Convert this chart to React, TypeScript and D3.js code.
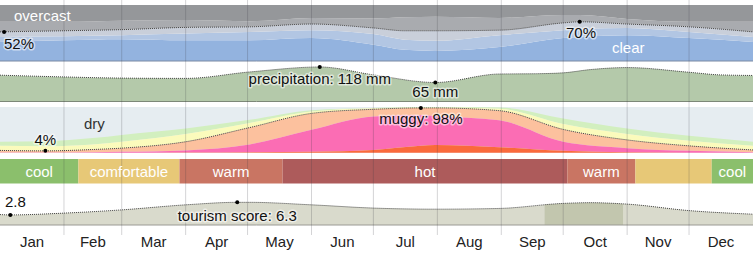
import React from "react";
import * as d3 from "d3";

// 월 라벨
const months = ["Jan", "Feb", "Mar", "Apr", "May", "Jun", "Jul", "Aug", "Sep", "Oct", "Nov", "Dec"];

// 구름량 (누적 %, 아래부터): clear, +mostly clear, +partly cloudy, +mostly cloudy
const cloudDays = [0, 31, 59, 90, 121, 151, 181, 196, 211, 242, 273, 281, 304, 334, 365];
const clearPct = [34, 37, 39, 37, 37, 41, 29, 20, 18, 25, 41, 43, 46, 41, 34];
const mostlyClearPct = [43, 44, 46, 49, 52, 55, 48, 38, 36, 46, 55, 57, 59, 52, 43];
const partlyCloudyPct = [52, 54, 56, 60, 61, 66, 59, 54, 54, 55, 68, 70, 66, 61, 52];
const mostlyCloudyPct = [70, 70, 72, 73, 71, 77, 76, 78, 79, 77, 82, 82, 75, 70, 70];

// 강수량 (31일 누적 mm)
const precipDays = [0, 31, 59, 90, 121, 155, 181, 211, 242, 260, 273, 286, 304, 334, 349, 365];
const precipMm = [90, 84, 80, 79, 101, 118, 91, 65, 94, 95, 98, 109, 116, 100, 91, 89];

// 습도 (누적 %, 아래부터): miserable, +oppressive, +muggy, +humid, +comfortable
const humDays = [0, 22, 45, 59, 90, 121, 151, 181, 204, 211, 242, 273, 304, 334, 365];
const miserablePct = [0, 0, 0, 0, 0.5, 1, 2, 6, 15, 17, 12, 4, 1, 0, 0];
const oppressivePct = [0.5, 0.5, 1, 2, 5, 18, 50, 79, 82, 80, 71, 24, 10, 4, 1];
const muggyPct = [5, 4, 7, 10, 24, 55, 86, 95, 98, 98, 92, 51, 28, 15, 6];
const humidPct = [15, 14, 18, 24, 41, 65, 90, 97, 99, 99, 96, 63, 41, 26, 15];
const comfortablePct = [24, 25, 32, 39, 53, 72, 93, 98, 100, 100, 99, 75, 53, 37, 24];

// 기온 구간
const tempStarts = [0, 38, 87, 137, 275, 308, 345];
const tempEnds = [38, 87, 137, 275, 308, 345, 365];
const tempCats = ["cool", "comfortable", "warm", "hot", "warm", "comfortable", "cool"];

// 관광 점수
const tourDays = [0, 5, 31, 59, 90, 115, 121, 151, 181, 211, 242, 273, 286, 304, 334, 365];
const tourScore = [2.9, 2.8, 3.3, 4.2, 5.6, 6.3, 6.3, 5.6, 4.7, 4.4, 4.6, 6.0, 6.2, 5.8, 4.0, 3.0];
const bestStart = 264;
const bestEnd = 302;

const W = 753;
const H = 253;
const FONT = "'Liberation Sans', Arial, Helvetica, sans-serif";

const tempColor: Record<string, string> = {
  cool: "#8bbf6c",
  comfortable: "#e7c877",
  warm: "#c97563",
  hot: "#ad5b5b",
};

const haloText = {
  paintOrder: "stroke",
  stroke: "rgba(255,255,255,0.55)",
  strokeWidth: 3,
  strokeLinejoin: "round" as const,
};

export default function App() {
  const year0 = new Date(2023, 0, 1);
  const x = d3.scaleTime().domain([year0, new Date(2024, 0, 1)]).range([0, W]);
  const xd = (d: number) => x(d3.timeDay.offset(year0, d));

  const yCloud = d3.scaleLinear().domain([0, 100]).range([61, 5]);
  const yPrecip = d3.scaleLinear().domain([0, 120]).range([101.5, 66.4]);
  const yHum = d3.scaleLinear().domain([0, 100]).range([152.7, 107]);
  const yTour = d3.scaleLinear().domain([0, 10]).range([225, 189]);

  const band = (days: number[], lo: number[] | null, hi: number[] | null, y: d3.ScaleLinear<number, number>, top: number) =>
    d3
      .area<number>()
      .x((i) => xd(days[i]))
      .y0((i) => y(lo ? lo[i] : 0))
      .y1((i) => y(hi ? hi[i] : top))
      .curve(d3.curveMonotoneX)(days.map((_, i) => i)) || "";

  const line = (days: number[], vals: number[], y: d3.ScaleLinear<number, number>) =>
    d3
      .line<number>()
      .x((i) => xd(days[i]))
      .y((i) => y(vals[i]))
      .curve(d3.curveMonotoneX)(days.map((_, i) => i)) || "";

  const cloudLayers: [number[] | null, number[] | null, string][] = [
    [null, clearPct, "#93b3df"],
    [clearPct, mostlyClearPct, "#b2c6e3"],
    [mostlyClearPct, partlyCloudyPct, "#c9cfda"],
    [partlyCloudyPct, mostlyCloudyPct, "#a9abaf"],
    [mostlyCloudyPct, null, "#95979a"],
  ];

  const humLayers: [number[] | null, number[], string][] = [
    [null, miserablePct, "#fa6a3c"],
    [miserablePct, oppressivePct, "#fb6db4"],
    [oppressivePct, muggyPct, "#fcc19e"],
    [muggyPct, humidPct, "#fbfbbc"],
    [humidPct, comfortablePct, "#d2efbf"],
  ];

  const monthStarts = d3.timeMonth.range(year0, new Date(2024, 0, 1));
  const dotted = { fill: "none", stroke: "#444", strokeWidth: 1, strokeDasharray: "1 1" };

  return (
    <div style={{ position: "fixed", left: 0, top: 0 }}>
      <svg width={W} height={H} style={{ display: "block", fontFamily: FONT, fontSize: 15 }}>
        <defs>
          <clipPath id="best">
            <rect x={xd(bestStart)} y={180} width={xd(bestEnd) - xd(bestStart)} height={50} />
          </clipPath>
        </defs>
        <rect width={W} height={H} fill="#fff" />

        {/* 구름 */}
        {cloudLayers.map(([lo, hi, c], i) => (
          <path key={"c" + i} d={band(cloudDays, lo, hi, yCloud, 100)} fill={c} />
        ))}
        <path d={line(cloudDays, partlyCloudyPct, yCloud)} {...dotted} />
        <line x1={0} x2={W} y1={61} y2={61} stroke="#7b8aa3" strokeWidth={1} />

        {/* 강수량 */}
        <path d={band(precipDays, null, precipMm, yPrecip, 0)} fill="#b4c9aa" />
        <path d={line(precipDays, precipMm, yPrecip)} {...dotted} />
        <line x1={0} x2={W} y1={101.5} y2={101.5} stroke="#7d8878" strokeWidth={1} />

        {/* 습도 */}
        <rect x={0} y={yHum(100)} width={W} height={yHum(0) - yHum(100)} fill="#e6edf1" />
        {humLayers
          .slice()
          .reverse()
          .map(([lo, hi, c], i) => (
            <path key={"h" + i} d={band(humDays, lo, hi, yHum, 100)} fill={c} />
          ))}
        <path d={line(humDays, muggyPct, yHum)} {...dotted} />

        {/* 기온 */}
        {tempCats.map((c, i) => (
          <rect key={"t" + i} x={xd(tempStarts[i])} y={159} width={xd(tempEnds[i]) - xd(tempStarts[i])} height={24.5} fill={tempColor[c]} />
        ))}

        {/* 관광 */}
        <path d={band(tourDays, null, tourScore, yTour, 0)} fill="#d9dacc" />
        <path d={band(tourDays, null, tourScore, yTour, 0)} fill="#c2c6ae" clipPath="url(#best)" />
        <path d={line(tourDays, tourScore, yTour)} {...dotted} />
        <line x1={0} x2={W} y1={225} y2={225} stroke="#9a9a94" strokeWidth={1} />

        {/* 월 구분선 */}
        {monthStarts.slice(1).map((m, i) => (
          <line key={"g" + i} x1={x(m)} x2={x(m)} y1={0} y2={235} stroke="rgba(60,60,70,0.22)" strokeWidth={1} />
        ))}

        {/* 기온 라벨 */}
        {tempCats.map((c, i) => {
          const w = xd(tempEnds[i]) - xd(tempStarts[i]);
          const show = w > c.length * 8 + 6;
          return show ? (
            <text key={"tl" + i} x={xd(tempStarts[i]) + w / 2} y={177} textAnchor="middle" fill="#fff">
              {c}
            </text>
          ) : null;
        })}

        {/* 라벨 */}
        <text x={14} y={21} fill="#fff">overcast</text>
        <text x={612} y={53} fill="#fff">clear</text>
        <circle cx={xd(2)} cy={yCloud(52)} r={2} fill="#000" />
        <text x={4} y={49} fill="#111" style={haloText}>52%</text>
        <circle cx={xd(281)} cy={yCloud(70)} r={2} fill="#000" />
        <text x={566} y={38} fill="#111" style={haloText}>70%</text>

        <circle cx={xd(155)} cy={yPrecip(118)} r={2} fill="#000" />
        <text x={xd(155)} y={84} textAnchor="middle" fill="#111" style={haloText}>precipitation: 118 mm</text>
        <circle cx={xd(211)} cy={yPrecip(65)} r={2} fill="#000" />
        <text x={xd(211)} y={97} textAnchor="middle" fill="#111" style={haloText}>65 mm</text>

        <text x={84} y={129} fill="#333">dry</text>
        <circle cx={xd(22)} cy={yHum(4)} r={2} fill="#000" />
        <text x={xd(22)} y={145} textAnchor="middle" fill="#111" style={haloText}>4%</text>
        <circle cx={xd(204)} cy={yHum(98)} r={2} fill="#000" />
        <text x={xd(204)} y={124} textAnchor="middle" fill="#111" style={haloText}>muggy: 98%</text>

        <circle cx={xd(5)} cy={yTour(2.8)} r={2} fill="#000" />
        <text x={5} y={207} fill="#111" style={haloText}>2.8</text>
        <circle cx={xd(115)} cy={yTour(6.3)} r={2} fill="#000" />
        <text x={xd(115)} y={221} textAnchor="middle" fill="#111" style={haloText}>tourism score: 6.3</text>

        {/* 월 라벨 */}
        {monthStarts.map((m, i) => (
          <text key={"m" + i} x={(x(m) + x(d3.timeMonth.offset(m, 1))) / 2} y={247} textAnchor="middle" fill="#222">
            {months[i]}
          </text>
        ))}
      </svg>
    </div>
  );
}
